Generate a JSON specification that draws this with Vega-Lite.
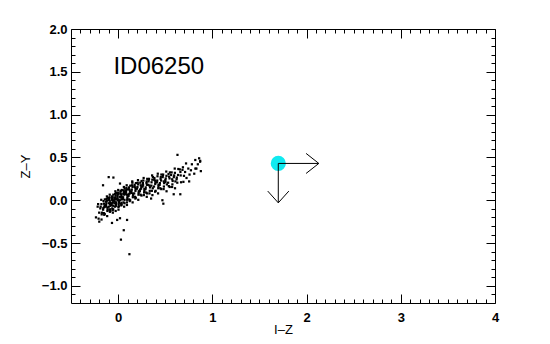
{
  "$schema": "https://vega.github.io/schema/vega-lite/v6.json",
  "width": 424,
  "height": 274,
  "autosize": {"type": "none"},
  "padding": {"left": 71, "top": 29, "right": 55, "bottom": 41},
  "background": "white",
  "config": {
    "view": {"stroke": null},
    "axis": {"grid": false, "domainColor": "black", "tickColor": "black", "labelColor": "black", "titleColor": "black", "labelFont": "Liberation Sans", "titleFont": "Liberation Sans", "domainWidth": 1, "tickWidth": 1, "labelFlush": false, "labelOverlap": false}
  },
  "datasets": {
    "stars": [
      {"iz": -0.207, "zy": -0.215}, {"iz": -0.217, "zy": -0.075}, {"iz": -0.201, "zy": -0.145}, {"iz": -0.212, "zy": -0.045},
      {"iz": -0.174, "zy": -0.165}, {"iz": -0.189, "zy": -0.095}, {"iz": -0.179, "zy": 0.005}, {"iz": -0.172, "zy": -0.145}, {"iz": -0.185, "zy": -0.075}, {"iz": -0.176, "zy": -0.225}, {"iz": -0.177, "zy": -0.045},
      {"iz": -0.157, "zy": -0.09}, {"iz": -0.141, "zy": 0.01}, {"iz": -0.152, "zy": -0.15}, {"iz": -0.144, "zy": -0.06}, {"iz": -0.159, "zy": -0.11}, {"iz": -0.149, "zy": -0.04}, {"iz": -0.142, "zy": -0.16}, {"iz": -0.155, "zy": -0.01}, {"iz": -0.146, "zy": -0.08}, {"iz": -0.147, "zy": -0.17},
      {"iz": -0.127, "zy": -0.015}, {"iz": -0.111, "zy": -0.085}, {"iz": -0.122, "zy": 0.015}, {"iz": -0.114, "zy": -0.125}, {"iz": -0.129, "zy": -0.055}, {"iz": -0.119, "zy": 0.045}, {"iz": -0.112, "zy": -0.105}, {"iz": -0.125, "zy": -0.035}, {"iz": -0.116, "zy": -0.185}, {"iz": -0.117, "zy": -0.005}, {"iz": -0.127, "zy": -0.075}, {"iz": -0.111, "zy": 0.025},
      {"iz": -0.092, "zy": -0.115}, {"iz": -0.084, "zy": -0.025}, {"iz": -0.099, "zy": -0.075}, {"iz": -0.089, "zy": -0.005}, {"iz": -0.082, "zy": -0.125}, {"iz": -0.095, "zy": 0.025}, {"iz": -0.086, "zy": -0.045}, {"iz": -0.087, "zy": -0.135}, {"iz": -0.097, "zy": 0.005}, {"iz": -0.081, "zy": -0.065}, {"iz": -0.092, "zy": 0.035}, {"iz": -0.084, "zy": -0.105}, {"iz": -0.099, "zy": -0.035}, {"iz": -0.089, "zy": 0.065},
      {"iz": -0.052, "zy": -0.065}, {"iz": -0.065, "zy": 0.005}, {"iz": -0.056, "zy": -0.145}, {"iz": -0.057, "zy": 0.035}, {"iz": -0.067, "zy": -0.035}, {"iz": -0.051, "zy": 0.065}, {"iz": -0.062, "zy": -0.095}, {"iz": -0.054, "zy": -0.005}, {"iz": -0.069, "zy": -0.055}, {"iz": -0.059, "zy": 0.015}, {"iz": -0.052, "zy": -0.105}, {"iz": -0.065, "zy": 0.045}, {"iz": -0.056, "zy": -0.025}, {"iz": -0.057, "zy": -0.115}, {"iz": -0.067, "zy": 0.025},
      {"iz": -0.021, "zy": -0.025}, {"iz": -0.032, "zy": 0.075}, {"iz": -0.024, "zy": -0.065}, {"iz": -0.039, "zy": 0.005}, {"iz": -0.029, "zy": 0.105}, {"iz": -0.022, "zy": -0.045}, {"iz": -0.035, "zy": 0.025}, {"iz": -0.026, "zy": -0.125}, {"iz": -0.027, "zy": 0.055}, {"iz": -0.037, "zy": -0.015}, {"iz": -0.021, "zy": 0.085}, {"iz": -0.032, "zy": -0.075}, {"iz": -0.024, "zy": 0.015}, {"iz": -0.039, "zy": -0.035}, {"iz": -0.029, "zy": 0.035},
      {"iz": 0.008, "zy": -0.07}, {"iz": -0.005, "zy": 0.08}, {"iz": 0.004, "zy": 0.01}, {"iz": 0.003, "zy": -0.08}, {"iz": -0.007, "zy": 0.06}, {"iz": 0.009, "zy": -0.01}, {"iz": -0.002, "zy": 0.09}, {"iz": 0.006, "zy": -0.05}, {"iz": -0.009, "zy": 0.02}, {"iz": 0.001, "zy": 0.12}, {"iz": 0.008, "zy": -0.03}, {"iz": -0.005, "zy": 0.04}, {"iz": 0.004, "zy": -0.11}, {"iz": 0.003, "zy": 0.07}, {"iz": -0.007, "zy": 0.0},
      {"iz": 0.039, "zy": 0.12}, {"iz": 0.028, "zy": -0.04}, {"iz": 0.036, "zy": 0.05}, {"iz": 0.021, "zy": 0.0}, {"iz": 0.031, "zy": 0.07}, {"iz": 0.038, "zy": -0.05}, {"iz": 0.025, "zy": 0.1}, {"iz": 0.034, "zy": 0.03}, {"iz": 0.033, "zy": -0.06}, {"iz": 0.023, "zy": 0.08}, {"iz": 0.039, "zy": 0.01}, {"iz": 0.028, "zy": 0.11}, {"iz": 0.036, "zy": -0.03}, {"iz": 0.021, "zy": 0.04},
      {"iz": 0.061, "zy": 0.155}, {"iz": 0.068, "zy": 0.005}, {"iz": 0.055, "zy": 0.075}, {"iz": 0.064, "zy": -0.075}, {"iz": 0.063, "zy": 0.105}, {"iz": 0.053, "zy": 0.035}, {"iz": 0.069, "zy": 0.135}, {"iz": 0.058, "zy": -0.025}, {"iz": 0.066, "zy": 0.065}, {"iz": 0.051, "zy": 0.015}, {"iz": 0.061, "zy": 0.085}, {"iz": 0.068, "zy": -0.035}, {"iz": 0.055, "zy": 0.115},
      {"iz": 0.094, "zy": 0.065}, {"iz": 0.093, "zy": -0.025}, {"iz": 0.083, "zy": 0.115}, {"iz": 0.099, "zy": 0.045}, {"iz": 0.088, "zy": 0.145}, {"iz": 0.096, "zy": 0.005}, {"iz": 0.081, "zy": 0.075}, {"iz": 0.091, "zy": 0.175}, {"iz": 0.098, "zy": 0.025}, {"iz": 0.085, "zy": 0.095}, {"iz": 0.094, "zy": -0.055}, {"iz": 0.093, "zy": 0.125},
      {"iz": 0.113, "zy": 0.07}, {"iz": 0.129, "zy": 0.17}, {"iz": 0.118, "zy": 0.01}, {"iz": 0.126, "zy": 0.1}, {"iz": 0.111, "zy": 0.05}, {"iz": 0.121, "zy": 0.12}, {"iz": 0.128, "zy": 0.0}, {"iz": 0.115, "zy": 0.15}, {"iz": 0.124, "zy": 0.08}, {"iz": 0.123, "zy": -0.01}, {"iz": 0.113, "zy": 0.13},
      {"iz": 0.159, "zy": 0.075}, {"iz": 0.148, "zy": 0.175}, {"iz": 0.156, "zy": 0.035}, {"iz": 0.141, "zy": 0.105}, {"iz": 0.151, "zy": 0.205}, {"iz": 0.158, "zy": 0.055}, {"iz": 0.145, "zy": 0.125}, {"iz": 0.154, "zy": -0.025}, {"iz": 0.153, "zy": 0.155}, {"iz": 0.143, "zy": 0.085},
      {"iz": 0.189, "zy": 0.2}, {"iz": 0.178, "zy": 0.04}, {"iz": 0.186, "zy": 0.13}, {"iz": 0.171, "zy": 0.08}, {"iz": 0.181, "zy": 0.15}, {"iz": 0.188, "zy": 0.03}, {"iz": 0.175, "zy": 0.18}, {"iz": 0.184, "zy": 0.11}, {"iz": 0.183, "zy": 0.02}, {"iz": 0.173, "zy": 0.16},
      {"iz": 0.219, "zy": 0.105}, {"iz": 0.208, "zy": 0.205}, {"iz": 0.216, "zy": 0.065}, {"iz": 0.201, "zy": 0.135}, {"iz": 0.211, "zy": 0.235}, {"iz": 0.218, "zy": 0.085}, {"iz": 0.205, "zy": 0.155}, {"iz": 0.214, "zy": 0.005}, {"iz": 0.213, "zy": 0.185},
      {"iz": 0.233, "zy": 0.125}, {"iz": 0.249, "zy": 0.225}, {"iz": 0.238, "zy": 0.065}, {"iz": 0.246, "zy": 0.155}, {"iz": 0.231, "zy": 0.105}, {"iz": 0.241, "zy": 0.175}, {"iz": 0.248, "zy": 0.055}, {"iz": 0.235, "zy": 0.205}, {"iz": 0.244, "zy": 0.135},
      {"iz": 0.273, "zy": 0.06}, {"iz": 0.263, "zy": 0.2}, {"iz": 0.279, "zy": 0.13}, {"iz": 0.268, "zy": 0.23}, {"iz": 0.276, "zy": 0.09}, {"iz": 0.261, "zy": 0.16}, {"iz": 0.271, "zy": 0.26}, {"iz": 0.278, "zy": 0.11}, {"iz": 0.265, "zy": 0.18},
      {"iz": 0.304, "zy": 0.04}, {"iz": 0.303, "zy": 0.22}, {"iz": 0.293, "zy": 0.15}, {"iz": 0.309, "zy": 0.25}, {"iz": 0.298, "zy": 0.09}, {"iz": 0.306, "zy": 0.18}, {"iz": 0.291, "zy": 0.13}, {"iz": 0.301, "zy": 0.2}, {"iz": 0.308, "zy": 0.08},
      {"iz": 0.325, "zy": 0.24}, {"iz": 0.334, "zy": 0.17}, {"iz": 0.333, "zy": 0.08}, {"iz": 0.323, "zy": 0.22}, {"iz": 0.339, "zy": 0.15}, {"iz": 0.328, "zy": 0.25}, {"iz": 0.336, "zy": 0.11}, {"iz": 0.321, "zy": 0.18},
      {"iz": 0.361, "zy": 0.29}, {"iz": 0.368, "zy": 0.14}, {"iz": 0.355, "zy": 0.21}, {"iz": 0.364, "zy": 0.06}, {"iz": 0.363, "zy": 0.24}, {"iz": 0.353, "zy": 0.17}, {"iz": 0.369, "zy": 0.27}, {"iz": 0.358, "zy": 0.11},
      {"iz": 0.396, "zy": 0.21}, {"iz": 0.381, "zy": 0.16}, {"iz": 0.391, "zy": 0.23}, {"iz": 0.398, "zy": 0.11}, {"iz": 0.385, "zy": 0.26}, {"iz": 0.394, "zy": 0.19}, {"iz": 0.393, "zy": 0.1}, {"iz": 0.383, "zy": 0.24},
      {"iz": 0.429, "zy": 0.18}, {"iz": 0.418, "zy": 0.28}, {"iz": 0.426, "zy": 0.14}, {"iz": 0.411, "zy": 0.21}, {"iz": 0.421, "zy": 0.31}, {"iz": 0.428, "zy": 0.16}, {"iz": 0.415, "zy": 0.23}, {"iz": 0.424, "zy": 0.08},
      {"iz": 0.453, "zy": 0.27}, {"iz": 0.443, "zy": 0.2}, {"iz": 0.459, "zy": 0.3}, {"iz": 0.448, "zy": 0.14}, {"iz": 0.456, "zy": 0.23}, {"iz": 0.441, "zy": 0.18}, {"iz": 0.451, "zy": 0.25}, {"iz": 0.458, "zy": 0.13},
      {"iz": 0.475, "zy": 0.29}, {"iz": 0.484, "zy": 0.22}, {"iz": 0.483, "zy": 0.13}, {"iz": 0.473, "zy": 0.27}, {"iz": 0.489, "zy": 0.2}, {"iz": 0.478, "zy": 0.3}, {"iz": 0.486, "zy": 0.16},
      {"iz": 0.501, "zy": 0.235}, {"iz": 0.511, "zy": 0.335}, {"iz": 0.518, "zy": 0.185}, {"iz": 0.505, "zy": 0.255}, {"iz": 0.514, "zy": 0.105}, {"iz": 0.513, "zy": 0.285}, {"iz": 0.503, "zy": 0.215},
      {"iz": 0.549, "zy": 0.325}, {"iz": 0.538, "zy": 0.165}, {"iz": 0.546, "zy": 0.255}, {"iz": 0.531, "zy": 0.205}, {"iz": 0.541, "zy": 0.275}, {"iz": 0.548, "zy": 0.155}, {"iz": 0.535, "zy": 0.305},
      {"iz": 0.574, "zy": 0.245}, {"iz": 0.573, "zy": 0.155}, {"iz": 0.563, "zy": 0.295}, {"iz": 0.579, "zy": 0.225}, {"iz": 0.568, "zy": 0.325}, {"iz": 0.576, "zy": 0.185},
      {"iz": 0.591, "zy": 0.27}, {"iz": 0.601, "zy": 0.37}, {"iz": 0.608, "zy": 0.22}, {"iz": 0.595, "zy": 0.29}, {"iz": 0.604, "zy": 0.14}, {"iz": 0.603, "zy": 0.32},
      {"iz": 0.623, "zy": 0.265}, {"iz": 0.639, "zy": 0.365}, {"iz": 0.628, "zy": 0.205}, {"iz": 0.636, "zy": 0.295}, {"iz": 0.621, "zy": 0.245},
      {"iz": 0.661, "zy": 0.33}, {"iz": 0.668, "zy": 0.21}, {"iz": 0.655, "zy": 0.36}, {"iz": 0.664, "zy": 0.29},
      {"iz": 0.693, "zy": 0.215}, {"iz": 0.683, "zy": 0.355}, {"iz": 0.699, "zy": 0.285}, {"iz": 0.688, "zy": 0.385},
      {"iz": 0.726, "zy": 0.26}, {"iz": 0.711, "zy": 0.33}, {"iz": 0.721, "zy": 0.43},
      {"iz": 0.758, "zy": 0.3}, {"iz": 0.745, "zy": 0.37}, {"iz": 0.754, "zy": 0.22},
      {"iz": 0.783, "zy": 0.42}, {"iz": 0.773, "zy": 0.35},
      {"iz": 0.819, "zy": 0.47}, {"iz": 0.808, "zy": 0.31},
      {"iz": 0.846, "zy": 0.42}, {"iz": 0.831, "zy": 0.37},
      {"iz": 0.871, "zy": 0.46}, {"iz": 0.878, "zy": 0.34},
      {"iz": 0.63, "zy": 0.53}, {"iz": 0.86, "zy": 0.49}, {"iz": 0.87, "zy": 0.45}, {"iz": 0.82, "zy": 0.37},
      {"iz": -0.16, "zy": 0.175}, {"iz": -0.1, "zy": 0.27}, {"iz": -0.05, "zy": 0.265}, {"iz": 0.02, "zy": 0.195}, {"iz": 0.15, "zy": 0.22},
      {"iz": -0.065, "zy": -0.265}, {"iz": -0.01, "zy": -0.23}, {"iz": 0.02, "zy": -0.21}, {"iz": 0.095, "zy": -0.23},
      {"iz": 0.06, "zy": -0.35}, {"iz": 0.03, "zy": -0.46}, {"iz": 0.12, "zy": -0.63},
      {"iz": 0.47, "zy": 0.0}, {"iz": 0.48, "zy": -0.04}, {"iz": 0.59, "zy": 0.07}, {"iz": 0.66, "zy": 0.07}, {"iz": 0.35, "zy": 0.02},
      {"iz": -0.2, "zy": -0.25}, {"iz": -0.235, "zy": -0.2}
    ],
    "source": [{"iz": 1.7, "zy": 0.43}],
    "arrows": [
      {"iz": 1.7, "zy": 0.43, "iz2": 2.13, "zy2": 0.43},
      {"iz": 2.13, "zy": 0.43, "iz2": 1.995, "zy2": 0.547},
      {"iz": 2.13, "zy": 0.43, "iz2": 1.995, "zy2": 0.313},
      {"iz": 1.7, "zy": 0.43, "iz2": 1.7, "zy2": -0.03},
      {"iz": 1.7, "zy": -0.03, "iz2": 1.588, "zy2": 0.107},
      {"iz": 1.7, "zy": -0.03, "iz2": 1.812, "zy2": 0.107}
    ],
    "label": [{"iz": -0.05, "zy": 1.48, "name": "ID06250"}]
  },
  "resolve": {"axis": {"x": "independent", "y": "independent"}},
  "layer": [
    {
      "data": {"name": "stars"},
      "mark": {"type": "point", "shape": "square", "filled": true, "size": 5, "color": "black", "opacity": 1, "strokeWidth": 0},
      "encoding": {
        "x": {"field": "iz", "type": "quantitative", "scale": {"domain": [-0.5, 4], "nice": false, "zero": false},
          "axis": {"orient": "bottom", "values": [0, 1, 2, 3, 4], "format": "d", "tickSize": -9, "labelPadding": 17, "labelFontSize": 13, "labelFontWeight": "bold", "title": "I–Z", "titleFontSize": 13, "titleFontWeight": "normal", "titlePadding": -1}},
        "y": {"field": "zy", "type": "quantitative", "scale": {"domain": [-1.2, 2.0], "nice": false, "zero": false},
          "axis": {"orient": "left", "values": [-1, -0.5, 0, 0.5, 1, 1.5, 2], "format": ".1f", "tickSize": -9, "labelPadding": 13, "labelFontSize": 13, "labelFontWeight": "bold", "title": "Z–Y", "titleFontSize": 13, "titleFontWeight": "normal", "titlePadding": 9}}
      }
    },
    {
      "data": {"name": "source"},
      "mark": {"type": "circle", "size": 230, "color": "#10eaf0", "opacity": 1},
      "encoding": {
        "x": {"field": "iz", "type": "quantitative", "scale": {"domain": [-0.5, 4], "nice": false, "zero": false},
          "axis": {"orient": "top", "values": [0, 1, 2, 3, 4], "labels": false, "tickSize": -9, "title": null}},
        "y": {"field": "zy", "type": "quantitative", "scale": {"domain": [-1.2, 2.0], "nice": false, "zero": false},
          "axis": {"orient": "right", "values": [-1, -0.5, 0, 0.5, 1, 1.5, 2], "labels": false, "tickSize": -9, "title": null}}
      }
    },
    {
      "data": {"name": "arrows"},
      "mark": {"type": "rule", "color": "black", "strokeWidth": 1},
      "encoding": {
        "x": {"field": "iz", "type": "quantitative", "scale": {"domain": [-0.5, 4], "nice": false, "zero": false},
          "axis": {"orient": "bottom", "values": [-0.4, -0.3, -0.2, -0.1, 0.1, 0.2, 0.3, 0.4, 0.5, 0.6, 0.7, 0.8, 0.9, 1.1, 1.2, 1.3, 1.4, 1.5, 1.6, 1.7, 1.8, 1.9, 2.1, 2.2, 2.3, 2.4, 2.5, 2.6, 2.7, 2.8, 2.9, 3.1, 3.2, 3.3, 3.4, 3.5, 3.6, 3.7, 3.8, 3.9], "labels": false, "domain": false, "tickSize": -4, "title": null}},
        "x2": {"field": "iz2"},
        "y": {"field": "zy", "type": "quantitative", "scale": {"domain": [-1.2, 2.0], "nice": false, "zero": false},
          "axis": {"orient": "left", "values": [-1.1, -0.9, -0.8, -0.7, -0.6, -0.4, -0.3, -0.2, -0.1, 0.1, 0.2, 0.3, 0.4, 0.6, 0.7, 0.8, 0.9, 1.1, 1.2, 1.3, 1.4, 1.6, 1.7, 1.8, 1.9], "labels": false, "domain": false, "tickSize": -4, "title": null}},
        "y2": {"field": "zy2"}
      }
    },
    {
      "data": {"name": "label"},
      "mark": {"type": "text", "align": "left", "baseline": "alphabetic", "fontSize": 24, "font": "Liberation Sans", "color": "black"},
      "encoding": {
        "x": {"field": "iz", "type": "quantitative", "scale": {"domain": [-0.5, 4], "nice": false, "zero": false},
          "axis": {"orient": "top", "values": [-0.4, -0.3, -0.2, -0.1, 0.1, 0.2, 0.3, 0.4, 0.5, 0.6, 0.7, 0.8, 0.9, 1.1, 1.2, 1.3, 1.4, 1.5, 1.6, 1.7, 1.8, 1.9, 2.1, 2.2, 2.3, 2.4, 2.5, 2.6, 2.7, 2.8, 2.9, 3.1, 3.2, 3.3, 3.4, 3.5, 3.6, 3.7, 3.8, 3.9], "labels": false, "domain": false, "tickSize": -4, "title": null}},
        "y": {"field": "zy", "type": "quantitative", "scale": {"domain": [-1.2, 2.0], "nice": false, "zero": false},
          "axis": {"orient": "right", "values": [-1.1, -0.9, -0.8, -0.7, -0.6, -0.4, -0.3, -0.2, -0.1, 0.1, 0.2, 0.3, 0.4, 0.6, 0.7, 0.8, 0.9, 1.1, 1.2, 1.3, 1.4, 1.6, 1.7, 1.8, 1.9], "labels": false, "domain": false, "tickSize": -4, "title": null}},
        "text": {"field": "name"}
      }
    }
  ]
}
